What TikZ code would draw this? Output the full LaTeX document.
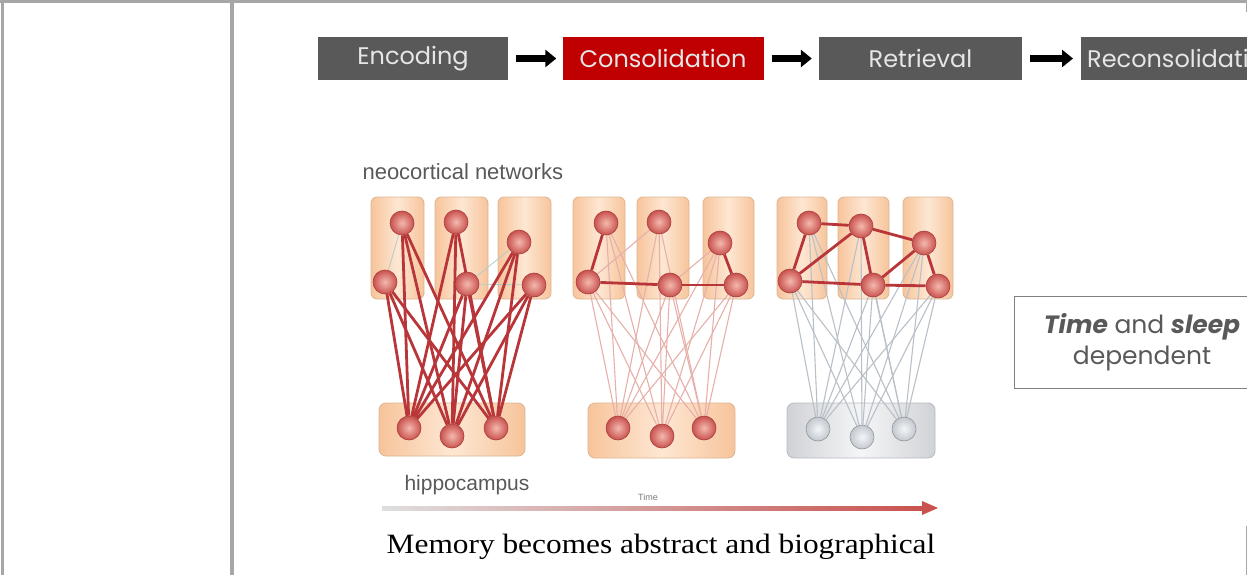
\documentclass[tikz,border=0pt]{standalone}
\usepackage{fontspec}
\setmainfont{Liberation Serif}
\newfontfamily\capfont{Liberation Serif}[FakeStretch=1.12]
\newfontfamily\gothic{Poppins}
\newfontfamily\arialfont{Liberation Sans}
\usetikzlibrary{arrows.meta,shapes.geometric}

\definecolor{framegray}{HTML}{A6A6A6}
\definecolor{stepgray}{HTML}{595959}
\definecolor{stepred}{HTML}{C00000}
\definecolor{steptext}{HTML}{E6E6E6}
\definecolor{peach}{HTML}{F7C49B}
\definecolor{peachlight}{HTML}{FDE7D3}
\definecolor{peachedge}{HTML}{DDB591}
\definecolor{ballin}{HTML}{F4B9AE}
\definecolor{ballout}{HTML}{C9524F}
\definecolor{balledge}{HTML}{A83C3C}
\definecolor{linkred}{HTML}{B8363A}
\definecolor{linkpink}{HTML}{E6B0AA}
\definecolor{linkgray}{HTML}{B9C0C7}
\definecolor{hipgray}{HTML}{E4E7EB}
\definecolor{hipgrayedge}{HTML}{B6BBC2}
\definecolor{greyin}{HTML}{F4F6F8}
\definecolor{greyout}{HTML}{C3C8CF}
\definecolor{labelgray}{HTML}{595959}

\pgfdeclarelayer{boxes}
\pgfdeclarelayer{links}
\pgfsetlayers{boxes,links,main}

\tikzset{
  stepbox/.style={draw=none, minimum width=#1, minimum height=43pt, inner sep=0pt,
    text=steptext, font=\gothic\fontsize{24}{27}\selectfont},
  blockarrow/.style={line width=7pt, -{Triangle[length=11pt,width=17pt]}},
  cortexbox/.style={draw=peachedge, line width=0.8pt, rounded corners=6pt,
    left color=peach, right color=peach, middle color=peachlight},
  hipbox/.style={draw=peachedge, line width=0.8pt, rounded corners=7pt,
    left color=peach, right color=peach, middle color=peachlight},
  hipboxgray/.style={draw=hipgrayedge, line width=0.8pt, rounded corners=7pt,
    left color=hipgray!80!gray, right color=hipgray!80!gray, middle color=hipgray!40!white},
  nball/.style={circle, minimum size=24pt, inner sep=0pt, draw=balledge, line width=0.6pt,
    shading=radial, inner color=ballin, outer color=ballout},
  gball/.style={circle, minimum size=24pt, inner sep=0pt, draw=hipgrayedge!80!black, line width=0.6pt,
    shading=radial, inner color=greyin, outer color=greyout},
  strong/.style={draw=linkred, line width=2.8pt},
  faint/.style={draw=linkpink, line width=1.1pt},
  faintgray/.style={draw=linkgray, line width=1.1pt},
  hairline/.style={draw=gray!50!teal!40, line width=0.8pt},
}

\begin{document}
\begin{tikzpicture}[x=1pt,y=-1pt]
\useasboundingbox (0,0) rectangle (1247,575);
\clip (0,0) rectangle (1247,575);

% outer frame of the table cell
\fill[framegray] (0,0) rectangle (1247,3.5);
\fill[framegray] (1,0) rectangle (4,575);
\fill[framegray] (230,0) rectangle (233.5,575);
\draw[framegray, line width=1pt] (1246,3) -- (1246,12);
\draw[framegray, line width=1pt] (1246,526) -- (1246,575);

% memory stages
\node[stepbox=190pt, fill=stepgray] (enc) at (413,58.5) {Encoding};
\node[stepbox=201pt, fill=stepred] (con) at (663,58.5) {Consolidation};
\node[stepbox=203pt, fill=stepgray] (ret) at (920.5,58.5) {Retrieval};
\node[stepbox=240pt, fill=stepgray, anchor=west, text width=228pt, align=left] (rec) at (1081,58.5) {Reconsolidation};
\draw[blockarrow] ([xshift=8pt]enc.east) -- ([xshift=-6pt]con.west);
\draw[blockarrow] ([xshift=8pt]con.east) -- ([xshift=-7pt]ret.west);
\draw[blockarrow] ([xshift=8pt]ret.east) -- ([xshift=-8pt]rec.west);

% labels of the network figure
\node[text=labelgray, font=\arialfont\fontsize{22}{25}\selectfont, anchor=west] (neo) at (359,172) {neocortical networks};
\node[text=labelgray, font=\arialfont\fontsize{21}{24}\selectfont, anchor=west] (hipp) at (401,485) {hippocampus};
\node[text=labelgray!80, font=\arialfont\fontsize{9}{10}\selectfont] (timelbl) at (648,497) {Time};

% ---------- stage 1: fresh memory ----------
\begin{pgfonlayer}{boxes}
  \draw[cortexbox] (371,197) rectangle (424,299);
  \draw[cortexbox] (435,197) rectangle (488,299);
  \draw[cortexbox] (498,197) rectangle (551,299);
  \draw[hipbox] (379,403) rectangle (525,456);
\end{pgfonlayer}
\node[nball] (a1) at (402,223) {};
\node[nball] (a2) at (385,282) {};
\node[nball] (a3) at (456,222) {};
\node[nball] (a4) at (467,284) {};
\node[nball] (a5) at (519,242) {};
\node[nball] (a6) at (534,285) {};
\node[nball] (ah1) at (409,428) {};
\node[nball] (ah2) at (452,436) {};
\node[nball] (ah3) at (496,428) {};
\begin{pgfonlayer}{links}
  \draw[hairline] (a1) -- (a2);
  \draw[hairline] (a4) -- (a5);
  \draw[hairline] (a4) -- (a6);
  \foreach \c in {a1,a2,a3,a4,a5,a6}
    \foreach \h in {ah1,ah2,ah3}
      \draw[strong] (\c) -- (\h);
\end{pgfonlayer}

% ---------- stage 2: partial consolidation ----------
\begin{pgfonlayer}{boxes}
  \draw[cortexbox] (573,197) rectangle (625,299);
  \draw[cortexbox] (637,197) rectangle (689,299);
  \draw[cortexbox] (703,197) rectangle (754,299);
  \draw[hipbox] (588,403) rectangle (735,458);
\end{pgfonlayer}
\node[nball] (b1) at (606,223) {};
\node[nball] (b2) at (588,282) {};
\node[nball] (b3) at (659,222) {};
\node[nball] (b4) at (670,285) {};
\node[nball] (b5) at (720,243) {};
\node[nball] (b6) at (736,285) {};
\node[nball] (bh1) at (618,428) {};
\node[nball] (bh2) at (662,436) {};
\node[nball] (bh3) at (704,428) {};
\begin{pgfonlayer}{links}
  \foreach \c in {b1,b2,b3,b4,b5,b6}
    \foreach \h in {bh1,bh2,bh3}
      \draw[faint] (\c) -- (\h);
  \draw[faint] (b2) -- (b3);
  \draw[faint] (b4) -- (b5);
  \draw[strong] (b1) -- (b2);
  \draw[strong] (b2) -- (b4);
  \draw[strong] (b4) -- (b6);
  \draw[strong] (b5) -- (b6);
\end{pgfonlayer}

% ---------- stage 3: cortical memory ----------
\begin{pgfonlayer}{boxes}
  \draw[cortexbox] (777,197) rectangle (827,299);
  \draw[cortexbox] (838,197) rectangle (889,299);
  \draw[cortexbox] (903,197) rectangle (953,299);
  \draw[hipboxgray] (787,403) rectangle (935,458);
\end{pgfonlayer}
\node[nball] (c1) at (809,223) {};
\node[nball] (c2) at (790,281) {};
\node[nball] (c3) at (861,226) {};
\node[nball] (c4) at (873,285) {};
\node[nball] (c5) at (924,243) {};
\node[nball] (c6) at (938,286) {};
\node[gball] (ch1) at (818,429) {};
\node[gball] (ch2) at (862,437) {};
\node[gball] (ch3) at (904,429) {};
\begin{pgfonlayer}{links}
  \foreach \c in {c1,c2,c3,c4,c5,c6}
    \foreach \h in {ch1,ch2,ch3}
      \draw[faintgray] (\c) -- (\h);
  \draw[strong] (c1) -- (c3);
  \draw[strong] (c1) -- (c2);
  \draw[strong] (c2) -- (c3);
  \draw[strong] (c2) -- (c4);
  \draw[strong] (c3) -- (c4);
  \draw[strong] (c3) -- (c5);
  \draw[strong] (c4) -- (c5);
  \draw[strong] (c4) -- (c6);
  \draw[strong] (c5) -- (c6);
\end{pgfonlayer}

% time axis
\coordinate (tstart) at (382,508);
\coordinate (tend) at (922,508);
\coordinate (ttip) at (938,508);
\shade[left color=gray!25, right color=ballout] ([yshift=-2pt]tstart) rectangle ([yshift=2pt]tend);
\fill[ballout] ([yshift=-7pt]tend) -- (ttip) -- ([yshift=7pt]tend) -- cycle;

% caption
\node[font=\capfont\fontsize{28}{32}\selectfont] (caption) at (661,547) {Memory becomes abstract and biographical};

% note box
\draw[gray, line width=1pt] (1300,296) -- (1014.5,296) -- (1014.5,388) -- (1300,388);
\node[text=labelgray, font=\gothic\fontsize{25}{31}\selectfont, align=center] (note) at (1142,342)
  {\textbf{\textit{Time}} and \textbf{\textit{sleep}}\\dependent};
\end{tikzpicture}
\end{document}
